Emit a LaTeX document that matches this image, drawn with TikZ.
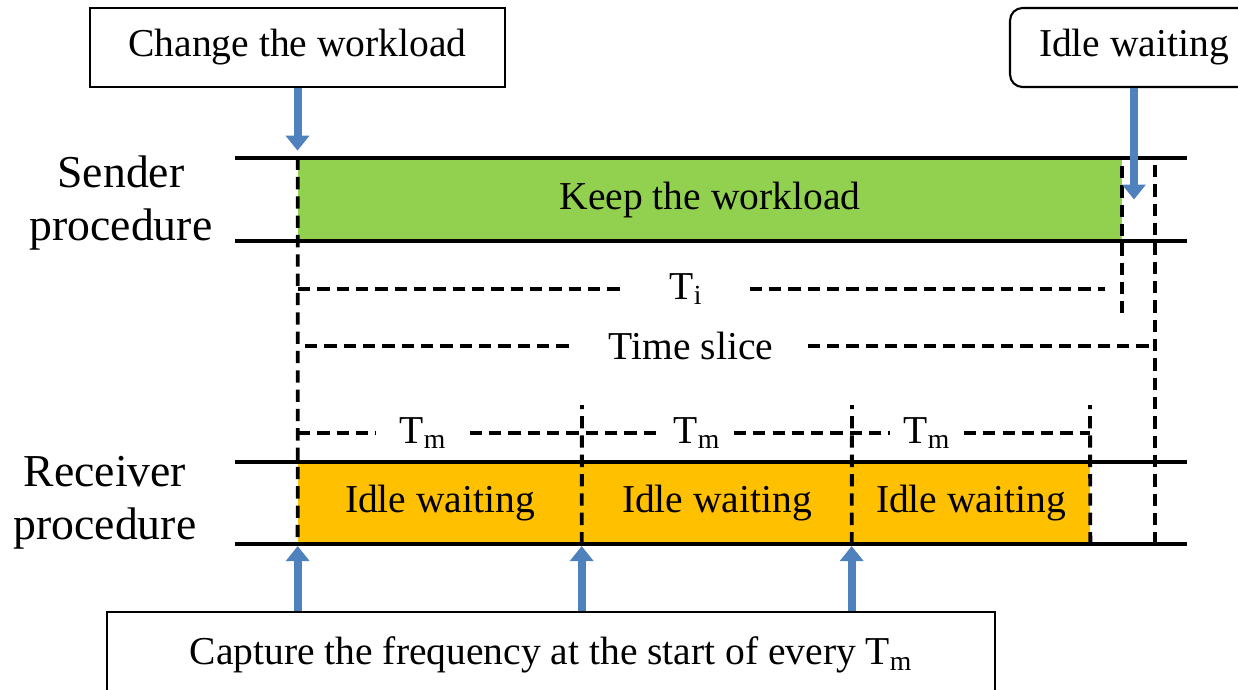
\documentclass[tikz,border=0pt]{standalone}
\usepackage{fontspec}
\setmainfont{Liberation Serif}
\newfontfamily\timesfont{Liberation Serif}
\usetikzlibrary{arrows.meta}

\definecolor{keepgreen}{RGB}{146,208,80}
\definecolor{idleorange}{RGB}{255,192,0}
\definecolor{markblue}{RGB}{79,129,189}

\begin{document}
\begin{tikzpicture}[x=0.02cm,y=-0.02cm,
    txt/.style={font=\timesfont\fontsize{22.5}{30}\selectfont},
    side/.style={font=\timesfont\fontsize{26}{30}\selectfont,align=center},
    tline/.style={line width=2pt},
    dline/.style={line width=2.2pt,dash pattern=on 7pt off 4pt},
    gap/.style={txt,inner sep=0pt},
    bluearrow/.style={draw=markblue,line width=0.16cm,-{Triangle[width=0.46cm,length=0.3cm]}}]
		\useasboundingbox (0,0) rectangle (1238,690);
		\clip (0,0) rectangle (1238,690);
		
		\node[draw,line width=1.2pt,minimum width=8.3cm,minimum height=1.58cm,txt] (chg) at (297.5,47.5) {Change the workload};
		\node[draw,line width=1.2pt,rounded corners=0.25cm,minimum width=4.96cm,minimum height=1.58cm,txt] (idb) at (1134,47.5) {Idle waiting};
		\node[draw,line width=1.2pt,minimum width=17.76cm,minimum height=1.72cm,txt] (cap) at (551,655) {Capture the frequency at the start of every T\textsubscript{m}};
		
		\node[side] (snd) at (121,203) {Sender\\procedure};
		\node[side] (rcv) at (105,503) {Receiver\\procedure};
		
		\node[fill=keepgreen,minimum width=16.48cm,minimum height=1.66cm,inner sep=0pt,txt] (keep) at (710,199.5) {Keep the workload};
		\node[fill=idleorange,minimum width=5.68cm,minimum height=1.64cm,inner sep=0pt,txt] (idle1) at (440,503) {Idle waiting};
		\node[fill=idleorange,minimum width=5.4cm,minimum height=1.64cm,inner sep=0pt,txt] (idle2) at (717,503) {Idle waiting};
		\node[fill=idleorange,minimum width=4.76cm,minimum height=1.64cm,inner sep=0pt,txt] (idle3) at (971,503) {Idle waiting};
		
		\draw[dline] (keep.north west) -- (idle1.south west);
		\draw[dline] (1122,166) -- (1122,313);
		\draw[dline] (1155,165) -- (1155,545);
		\draw[dline] (idle2.south west) -- (582,405);
		\draw[dline] (idle3.south west) -- (852,405);
		\draw[dline] (idle3.south east) -- (1090,405);
		
		\node[gap,minimum width=2.54cm] (ti) at (686,289) {T\textsubscript{i}};
		\draw[dline] (298,289) -- (ti.west);
		\draw[dline] (ti.east) -- (1105,289);
		
		\node[gap,minimum width=4.66cm] (ts) at (691,346) {Time slice};
		\draw[dline] (305,346) -- (ts.west);
		\draw[dline] (ts.east) -- (1155,346);
		
		\node[gap,minimum width=1.86cm] (tm1) at (423,433) {T\textsubscript{m}};
		\node[gap,minimum width=1.46cm] (tm2) at (697,433) {T\textsubscript{m}};
		\node[gap,minimum width=1.46cm] (tm3) at (927,433) {T\textsubscript{m}};
		\draw[dline] (298,433) -- (tm1.west);
		\draw[dline] (tm1.east) -- (582,433) -- (tm2.west);
		\draw[dline] (tm2.east) -- (852,433) -- (tm3.west);
		\draw[dline] (tm3.east) -- (1090,433);
		
		\draw[tline] (235,158) -- (1187,158);
		\draw[tline] (235,241) -- (1187,241);
		\draw[tline] (235,462) -- (1187,462);
		\draw[tline] (235,544) -- (1187,544);
		
		\draw[bluearrow,shorten >=4pt] (chg.south) -- (chg.south |- keep.north);
		\draw[bluearrow] (idb.south) -- (idb.south |- keep.center);
		\draw[bluearrow,shorten >=1pt] (cap.north -| idle1.west) -- (idle1.south west);
		\draw[bluearrow,shorten >=1pt] (cap.north -| idle2.west) -- (idle2.south west);
		\draw[bluearrow,shorten >=1pt] (cap.north -| idle3.west) -- (idle3.south west);
\end{tikzpicture}
\end{document}
